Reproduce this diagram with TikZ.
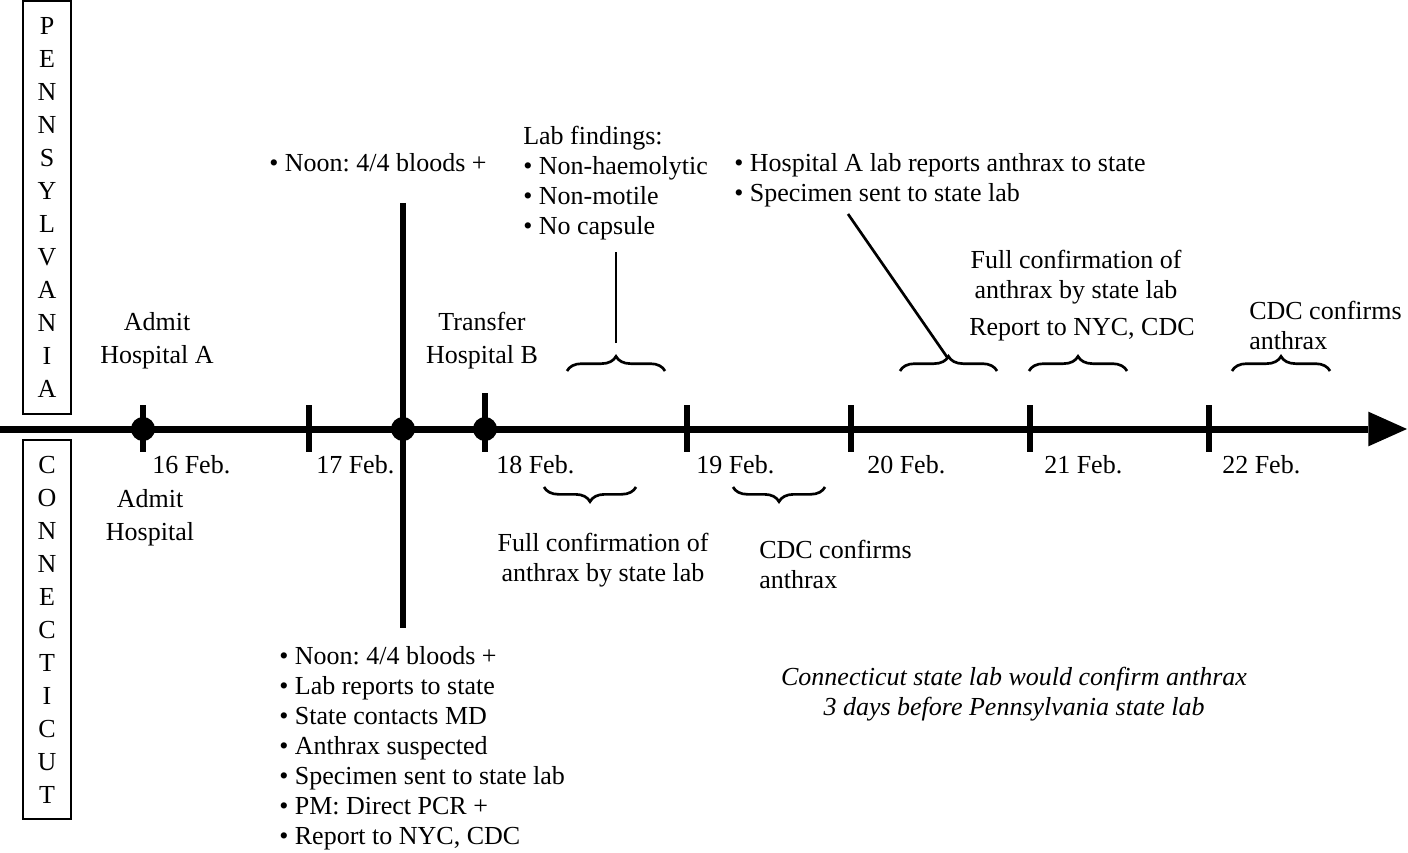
\documentclass[tikz,border=0pt]{standalone}
\usepackage{fontspec}
\setmainfont{Liberation Serif}
\usetikzlibrary{arrows.meta,decorations.pathreplacing}
\frenchspacing

\begin{document}
\begin{tikzpicture}[x=0.75pt,y=0.75pt,yscale=-1,xscale=1,
  every node/.style={inner sep=0.75pt,font=\fontsize{19.5}{22.5}\selectfont},
  statebox/.style={draw,line width=1.5pt,align=center,minimum width=35.5pt,font=\fontsize{19.5}{24.75}\selectfont},
  twoline/.style={align=center,font=\fontsize{19.5}{24.75}\selectfont},
  tickmark/.style={line width=4.5pt},
  daydot/.style={circle,fill,inner sep=0pt,minimum size=18pt},
  bracemark/.style={decorate,decoration={brace,amplitude=11pt},line width=2pt},
  leadline/.style={line width=2pt}]
\useasboundingbox (0,0) rectangle (1408,852);

%State boxes
\draw (47,207.7) node [statebox,minimum height=309.75pt] (penn) {P\\E\\N\\N\\S\\Y\\L\\V\\A\\N\\I\\A};
\draw (47,629.5) node [statebox,minimum height=284.25pt] (conn) {C\\O\\N\\N\\E\\C\\T\\I\\C\\U\\T};

%Time axis
\draw [line width=5.25pt,-{Triangle[length=29pt,width=26pt,line width=0pt]}] (0,429) -- (1407,429);

%Ticks
\draw [tickmark] (143,405) -- (143,452);
\draw [tickmark] (309,405) -- (309,452);
\draw [tickmark] (485,393) -- (485,452);
\draw [tickmark] (687,405) -- (687,452);
\draw [tickmark] (851,405) -- (851,452);
\draw [tickmark] (1030,405) -- (1030,452);
\draw [tickmark] (1209,405) -- (1209,452);
%Long line at noon
\coordinate (noonTop) at (403,203);
\coordinate (noonBot) at (403,628);
\draw [tickmark] (noonTop) -- (noonBot);

%Dots
\draw (143,429) node [daydot] (admitDot) {};
\draw (403,429) node [daydot] (noonDot) {};
\draw (485,429) node [daydot] (transferDot) {};

% Text Node
\draw (151,465) node [anchor=west] (d16) {16 Feb.};
\draw (315,465) node [anchor=west] (d17) {17 Feb.};
\draw (495,465) node [anchor=west] (d18) {18 Feb.};
\draw (695,465) node [anchor=west] (d19) {19 Feb.};
\draw (866,465) node [anchor=west] (d20) {20 Feb.};
\draw (1043,465) node [anchor=west] (d21) {21 Feb.};
\draw (1221,465) node [anchor=west] (d22) {22 Feb.};

% Text Node
\draw (157,341) node [twoline] (admitPA) {Admit\\Hospital A};
% Text Node
\draw (482,341) node [twoline] (transferPA) {Transfer\\Hospital B};
% Text Node
\draw (268,163) node [anchor=west] (noonPA) {\textbullet\ Noon: 4/4 bloods +};
% Text Node
\draw (522,183) node [anchor=west,align=left] (labPA) {Lab findings:\\\textbullet\ Non-haemolytic\\\textbullet\ Non-motile\\\textbullet\ No capsule};
% Text Node
\draw (733,180) node [anchor=west,align=left] (hospPA) {\textbullet\ Hospital A lab reports anthrax to state\\\textbullet\ Specimen sent to state lab};
% Text Node
\draw (1076,277) node [align=center] (fullPA) {Full confirmation of\\anthrax by state lab};
% Text Node
\draw (1082,330) node (nycPA) {Report to NYC, CDC};
% Text Node
\draw (1248,325) node [anchor=west,align=left] (cdcPA) {CDC confirms\\anthrax};

% Text Node
\draw (150,518) node [twoline] (admitCT) {Admit\\Hospital};
% Text Node
\draw (603,560) node [align=center] (fullCT) {Full confirmation of\\anthrax by state lab};
% Text Node
\draw (758,564) node [anchor=west,align=left] (cdcCT) {CDC confirms\\anthrax};
% Text Node
\draw (278,748) node [anchor=west,align=left] (listCT) {\textbullet\ Noon: 4/4 bloods +\\\textbullet\ Lab reports to state\\\textbullet\ State contacts MD\\\textbullet\ Anthrax suspected\\\textbullet\ Specimen sent to state lab\\\textbullet\ PM: Direct PCR +\\\textbullet\ Report to NYC, CDC};
% Text Node
\draw (1014,694) node [align=center,font=\fontsize{19.5}{22.5}\selectfont\itshape] (noteCT) {Connecticut state lab would confirm anthrax\\3 days before Pennsylvania state lab};

%Braces above the axis
\draw [bracemark] (567,371) -- (665,371);
\draw [bracemark] (900,371) -- (997,371);
\draw [bracemark] (1029,371) -- (1127,371);
\draw [bracemark] (1232,371) -- (1330,371);
%Braces below the axis
\draw [bracemark] (636,487) -- (544,487);
\draw [bracemark] (825,487) -- (733,487);

%Leader lines
\coordinate (labTip) at (616,343);
\coordinate (labFoot) at (616,252);
\draw [leadline] (labTip) -- (labFoot);
\coordinate (hospTip) at (947,357);
\coordinate (hospFoot) at (848,214);
\draw [leadline] (hospTip) -- (hospFoot);

\end{tikzpicture}
\end{document}
